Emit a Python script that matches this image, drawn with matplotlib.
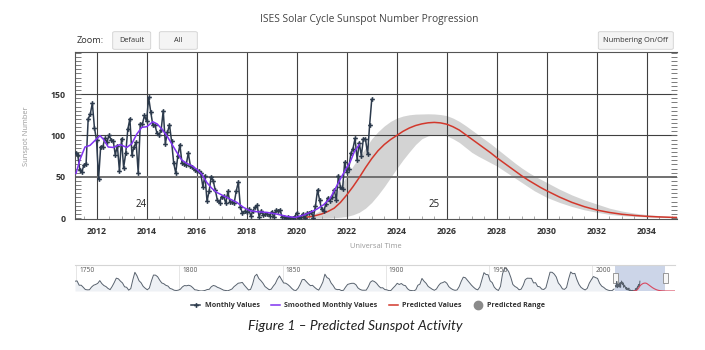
import matplotlib
matplotlib.use('Agg')
import matplotlib.pyplot as plt
import numpy as np
from matplotlib.patches import FancyBboxPatch, Rectangle
from matplotlib.lines import Line2D

plt.rcParams['font.family'] = ['Open Sans', 'DejaVu Sans']

# monthly sunspot numbers, Mar 2011 .. Jan 2023
monthly = [78.6, 76.1, 58.2, 56.1, 64.5, 65.8, 120.1, 125.7, 139.1, 109.3,
           94.4, 47.8, 86.6, 85.9, 96.5, 92.0, 100.1, 94.8, 93.7, 76.5, 87.6, 56.8,
           96.1, 60.9, 78.3, 107.3, 120.2, 76.7, 86.2, 91.8, 54.5, 114.4, 113.9, 124.2,
           117.0, 146.1, 128.7, 112.5, 112.5, 102.9, 100.2, 106.9, 130.0, 90.0, 103.6, 112.9,
           93.0, 66.7, 54.5, 75.3, 88.8, 66.5, 65.8, 64.4, 78.6, 63.6, 62.2, 58.0,
           57.0, 56.4, 54.1, 37.9, 51.5, 20.5, 32.4, 50.2, 44.6, 33.4, 21.4, 18.5,
           26.1, 26.4, 17.7, 32.3, 18.9, 19.2, 17.8, 32.6, 43.6, 13.2, 5.7, 8.2,
           6.8, 10.7, 2.5, 8.9, 13.1, 15.6, 1.6, 8.7, 3.3, 4.9, 4.9, 3.1,
           7.7, 0.8, 9.4, 9.1, 9.9, 1.2, 0.9, 0.5, 1.1, 0.4, 0.5, 1.5,
           6.2, 0.2, 1.5, 5.2, 0.2, 5.8, 6.1, 7.5, 0.6, 14.4, 34.0, 21.8,
           10.4, 8.2, 17.2, 24.5, 21.2, 25.0, 34.3, 22.0, 51.3, 37.4, 34.8, 67.5,
           55.3, 59.9, 78.5, 84.1, 96.5, 70.5, 91.4, 75.4, 96.3, 95.4, 77.6, 113.1,
           143.6]
monthly_start = 2011 + 2 / 12

# smoothed monthly values
smooth_t = [2011.18, 2011.34, 2011.54, 2011.74, 2011.94, 2012.14, 2012.27, 2012.47,
            2012.67, 2012.94, 2013.21, 2013.41, 2013.61, 2013.81, 2014.01, 2014.25,
            2014.43, 2014.61, 2014.81, 2015.01, 2015.21, 2015.41, 2015.61, 2015.81,
            2016.01, 2016.21, 2016.41, 2016.61, 2016.81, 2017.07, 2017.34, 2017.61,
            2017.87, 2018.14, 2018.41, 2018.81, 2019.21, 2019.61, 2019.94, 2020.27,
            2020.54, 2020.81, 2021.07, 2021.34, 2021.5, 2021.74, 2021.94, 2022.14,
            2022.3, 2022.5]
smooth_v = [54, 71, 86, 88, 94, 99.7, 95.6, 86, 85.5, 89, 85.5, 90, 101.7, 109.8,
            110.6, 116.6, 113.8, 107.7, 99.7, 89.6, 79.5, 70.2, 66.2, 63.3, 59, 53,
            43, 36, 31, 27, 23, 19, 13, 8.9, 7.7, 6.9, 4.8, 2, 0.8, 3.6, 6.9, 10.9,
            16, 24, 33, 47, 58, 68, 80, 89]

# predicted values and range: quarterly to 2030, then half-yearly
pred_t = list(np.arange(2020.0, 2030.01, 0.25)) + [
    2030.5, 2031.0, 2031.5, 2032.0, 2032.5, 2033.0, 2033.5, 2034.0, 2034.5,
    2035.0, 2035.5, 2036.5, 2037.5, 2039.0, 2040.5]
pred_v = [0.5, 0.8, 1.5, 3, 5, 8, 12, 19, 28, 38, 49, 61, 72, 81.5, 89, 95,
          100, 105, 109, 112, 114, 115.3, 115.8, 115.2, 113.6, 110.5, 106.5, 101,
          95.5, 90, 84.5, 79, 73, 67.5, 62, 56.5, 51, 46, 41.5, 37, 33,
          25.5, 19, 13.8, 9.7, 6.8, 4.6, 3.2, 2.1, 1.4, 0.9, 0.6, 0.3, 0.15, 0.05, 0]
pred_hi = [0.5, 1.5, 3, 6, 10, 17, 27, 39, 51, 63, 74, 85, 96, 104.5, 111.5, 117,
           121, 123.5, 125, 125.8, 126, 126.2, 126, 125.3, 124, 121, 117, 112,
           106.5, 101, 95.5, 90, 84, 78, 72, 66, 60.5, 55.5, 51, 47, 43,
           35, 28, 22, 17, 12, 8.5, 6, 4.2, 3, 1.8, 1.2, 0.6, 0.3, 0.1, 0]
pred_lo = [0, 0, 0, 0, 0, 0.2, 0.5, 1, 2, 4, 7, 12, 19, 28, 38, 49,
           60, 70.5, 80, 89, 96, 99.5, 101, 101, 99.5, 96, 91.5, 85.5,
           79.5, 75, 71, 67, 63, 58, 53, 48, 43, 38, 33, 29, 25,
           19, 14, 10, 7, 4.5, 3, 2, 1.3, 0.8, 0.4, 0.2, 0.1, 0, 0, 0]

cycle_names = ['24', '25']
cycle_x = [2013.77, 2025.5]
cycle_y = [16, 16]

# yearly sunspot numbers 1749..2010 for the navigator
yearly = [80.9,
          83.4, 47.7, 47.8, 30.7, 12.2, 9.6, 10.2, 32.4, 47.6, 54.0,
          62.9, 85.9, 61.2, 45.1, 36.4, 20.9, 11.4, 37.8, 69.8, 106.1,
          100.8, 81.6, 66.5, 34.8, 30.6, 7.0, 19.8, 92.5, 154.4, 125.9,
          84.8, 68.1, 38.5, 22.8, 10.2, 24.1, 82.9, 132.0, 130.9, 118.1,
          89.9, 66.6, 60.0, 46.9, 41.0, 21.3, 16.0, 6.4, 4.1, 6.8,
          14.5, 34.0, 45.0, 43.1, 47.5, 42.2, 28.1, 10.1, 8.1, 2.5,
          0.0, 1.4, 5.0, 12.2, 13.9, 35.4, 45.8, 41.0, 30.1, 23.9,
          15.6, 6.6, 4.0, 1.8, 8.5, 16.6, 36.3, 49.6, 64.2, 67.0,
          70.9, 47.8, 27.5, 8.5, 13.2, 56.9, 121.5, 138.3, 103.2, 85.7,
          64.6, 36.7, 24.2, 10.7, 15.0, 40.1, 61.5, 98.5, 124.7, 96.3,
          66.6, 64.5, 54.1, 39.0, 20.6, 6.7, 4.3, 22.7, 54.8, 93.8,
          95.8, 77.2, 59.1, 44.0, 47.0, 30.5, 16.3, 7.3, 37.6, 74.0,
          139.0, 111.2, 101.6, 66.2, 44.7, 17.0, 11.3, 12.4, 3.4, 6.0,
          32.3, 54.3, 59.7, 63.7, 63.5, 52.2, 25.4, 13.1, 6.8, 6.3,
          7.1, 35.6, 73.0, 85.1, 78.0, 64.0, 41.8, 26.2, 26.7, 12.1,
          9.5, 2.7, 5.0, 24.4, 42.0, 63.5, 53.8, 62.0, 48.5, 43.9,
          18.6, 5.7, 3.6, 1.4, 9.6, 47.4, 57.1, 103.9, 80.6, 63.6,
          37.6, 26.1, 14.2, 5.8, 16.7, 44.3, 63.9, 69.0, 77.8, 64.9,
          35.7, 21.2, 11.1, 5.7, 8.7, 36.1, 79.7, 114.4, 109.6, 88.8,
          67.8, 47.5, 30.6, 16.3, 9.6, 33.2, 92.6, 151.6, 136.3, 134.7,
          83.9, 69.4, 31.5, 13.9, 4.4, 38.0, 141.7, 190.2, 184.8, 159.0,
          112.3, 53.9, 37.5, 27.9, 10.2, 15.1, 47.0, 93.8, 105.9, 105.5,
          104.5, 66.6, 68.9, 38.0, 34.5, 15.5, 12.6, 27.5, 92.5, 155.4,
          154.6, 140.4, 115.9, 66.6, 45.9, 17.9, 13.4, 29.4, 100.2, 157.6,
          142.6, 145.7, 94.3, 54.6, 29.9, 17.5, 8.6, 21.5, 64.3, 93.3,
          119.6, 111.0, 104.0, 63.7, 40.4, 29.8, 15.2, 7.5, 2.9, 3.1,
          16.5]
yearly_start = 1749
nav_labels = [1750, 1800, 1850, 1900, 1950, 2000]

legend_labels = ['Monthly Values', 'Smoothed Monthly Values', 'Predicted Values', 'Predicted Range']

W, H = 705, 350


def fx(px):
    return px / W


def fy(py):
    return 1 - py / H


c_month = '#2c3a4c'
c_smooth = '#8033f0'
c_pred = '#d2382c'
c_band = '#d3d3d3'
c_grid = '#404040'

fig = plt.figure(figsize=(7.05, 3.5), dpi=100)

# ---- main chart
x0, x1 = 2011.14, 2035.2
ax = fig.add_axes([fx(75), fy(218.5), (677 - 75) / W, (218.5 - 52) / H])
ax.set_xlim(x0, x1)
ax.set_ylim(-0.5, 201)

ax.fill_between(pred_t, pred_lo, pred_hi, color=c_band, lw=0, zorder=1)
for yr in range(2012, 2035, 2):
    ax.axvline(yr, color=c_grid, lw=0.8, zorder=1.5)
for v in [100, 150]:
    ax.axhline(v, color=c_grid, lw=0.8, zorder=1.5)
ax.axhline(50, color='#707070', lw=1.4, zorder=1.5)

month_t = monthly_start + np.arange(len(monthly)) / 12
h_month, = ax.plot(month_t, monthly, color=c_month, lw=1.1, marker='P', ms=3.4,
                   mew=0, zorder=4)
h_smooth, = ax.plot(smooth_t, smooth_v, color=c_smooth, lw=1.1, zorder=5)
h_pred, = ax.plot(pred_t, pred_v, color=c_pred, lw=1.1, zorder=3)
h_range = Line2D([], [], marker='o', color='#8a8a8a', ls='none', ms=6)

for name, cx, cy in zip(cycle_names, cycle_x, cycle_y):
    ax.text(cx, cy, name, ha='center', va='center', fontsize=7, color='#222')

ax.set_xticks(range(2012, 2035, 2))
ax.set_xticks(np.arange(2011.5, 2035.2, 0.5), minor=True)
ax.set_yticks([0, 50, 100, 150])
ax.set_yticks(np.arange(0, 201, 5), minor=True)
ax.tick_params(axis='x', which='major', direction='in', length=0, pad=6,
               labelsize=6.3, labelcolor='#333')
ax.tick_params(axis='x', which='minor', direction='in', length=2.5, color='#999',
               width=0.6)
ax.tick_params(axis='y', which='both', direction='in', left=True, right=True,
               length=4.5, width=0.6, color='#666', pad=7, labelsize=6.3,
               labelcolor='#333')
for lab in ax.get_xticklabels() + ax.get_yticklabels():
    lab.set_fontweight('bold')
for s in ['left', 'top', 'bottom']:
    ax.spines[s].set_color('#555')
    ax.spines[s].set_linewidth(0.8)
ax.spines['right'].set_visible(False)

ax.set_xlabel('Universal Time', fontsize=5.4, color='#999', labelpad=5)
fig.text(fx(26), fy(136), 'Sunspot Number', rotation=90, ha='center', va='center',
         fontsize=5.4, color='#999')

# ---- header
fig.text(fx(369.5), fy(19.3), 'ISES Solar Cycle Sunspot Number Progression',
         ha='center', va='center', fontsize=7.4, color='#444')
fig.text(fx(77), fy(40.7), 'Zoom:', ha='left', va='center', fontsize=6.6, color='#333')
for bx0, bx1, txt in [(112.7, 150.7, 'Default'), (159.3, 197.3, 'All'),
                      (598.3, 673.3, 'Numbering On/Off')]:
    box = FancyBboxPatch((fx(bx0), fy(49.3)), (bx1 - bx0) / W, 17.6 / H,
                         boxstyle='round,pad=0,rounding_size=0.003',
                         transform=fig.transFigure, fc='#f4f4f4', ec='#d0d0d0', lw=0.6)
    fig.add_artist(box)
    fig.text(fx((bx0 + bx1) / 2), fy(40.5), txt, ha='center', va='center',
             fontsize=5.3, color='#333')

# ---- navigator
nav = fig.add_axes([fx(75), fy(291), 600 / W, 26 / H])
nav.set_xlim(1749.5, 2040)
nav.set_ylim(0, 215)
year_t = yearly_start + np.arange(len(yearly)) + 0.5
nav.fill_between(year_t, 0, yearly, color='#eef1f5', lw=0, zorder=1)
nav.plot(year_t, yearly, color='#58626e', lw=0.7, zorder=3)
for yr in nav_labels:
    nav.axvline(yr, color='#e2e2e2', lw=0.6, zorder=0.5)
    nav.text(yr + 1.5, 0.8, str(yr), transform=nav.get_xaxis_transform(),
             fontsize=4.8, color='#555', va='center', ha='left')
nav.axvspan(x0, x1, color='#ccd5e8', lw=0, zorder=2)
for s in ['left', 'right', 'bottom']:
    nav.spines[s].set_visible(False)
nav.spines['top'].set_color('#d5d5d5')
nav.set_xticks([])
nav.set_yticks([])

nav2 = nav.twinx()
nav2.set_ylim(0, 380)
nav2.plot(month_t, monthly, color='#58626e', lw=0.7)
nav2.plot(pred_t, pred_v, color='#d9485f', lw=0.8)
nav2.axis('off')

for hx in [x0, x1]:
    nav.add_patch(Rectangle((hx - 1.2, 0.29), 2.4, 0.42, transform=nav.get_xaxis_transform(),
                            fc='#f7f7f7', ec='#8a8a8a', lw=0.6, zorder=6, clip_on=False))

# ---- legend
fig.legend([h_month, h_smooth, h_pred, h_range], legend_labels, loc='center',
           bbox_to_anchor=(fx(368), fy(305.7)), ncol=4, frameon=False,
           prop={'size': 5.1, 'weight': 'bold'}, handlelength=1.3,
           handletextpad=0.6, columnspacing=1.6, labelcolor='#333')

fig.text(fx(355), fy(326.5), 'Figure 1 \u2013 Predicted Sunspot Activity', ha='center',
         va='center', fontsize=10, style='italic', color='#222',
         family=['Lato', 'DejaVu Sans'])

fig.savefig('out.png', dpi=100)
